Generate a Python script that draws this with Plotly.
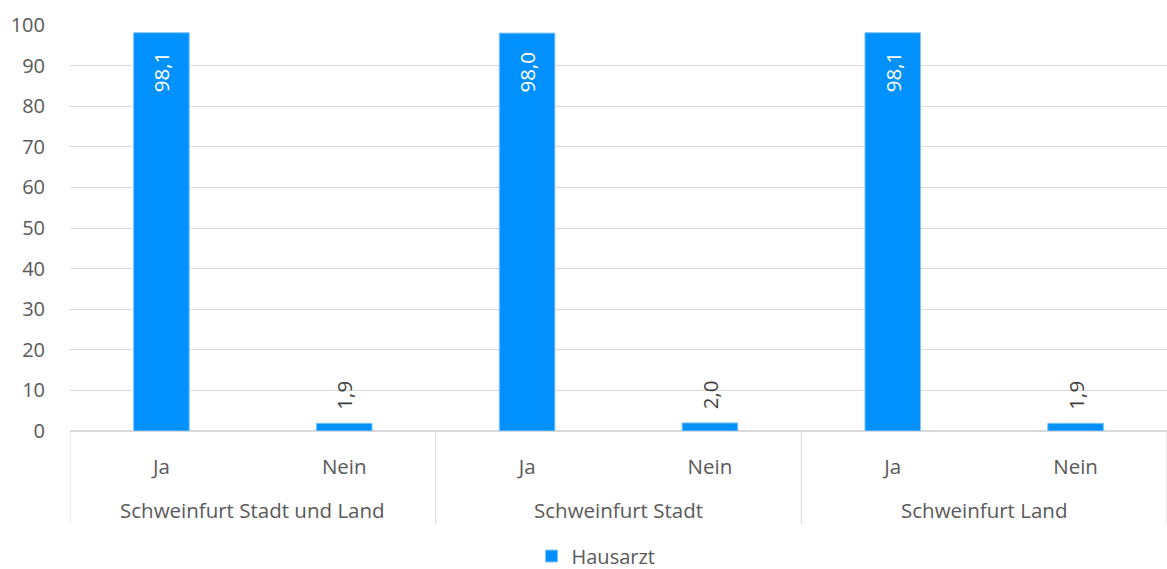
import plotly.graph_objects as go

group_names = ["Schweinfurt Stadt und Land", "Schweinfurt Stadt", "Schweinfurt Land"]
answers = ["Ja", "Nein", "Ja", "Nein", "Ja", "Nein"]
values = [98.1, 1.9, 98.0, 2.0, 98.1, 1.9]
labels = ["98,1", "1,9", "98,0", "2,0", "98,1", "1,9"]
series_name = "Hausarzt"
y_ticks = [0, 10, 20, 30, 40, 50, 60, 70, 80, 90, 100]

FONT = "'Open Sans', sans-serif"
GREY = "#595959"
BLUE = "#0091FF"
LINE = "#D9D9D9"
NBSP = "\u00a0"

positions = list(range(len(values)))
per_group = len(values) // len(group_names)
group_centers = [g * per_group + (per_group - 1) / 2 for g in range(len(group_names))]
divider_x = [g * per_group - 0.5 for g in range(len(group_names) + 1)]

is_big = [v > 50 for v in values]
text_pos = ["inside" if b else "outside" for b in is_big]
text_colors = ["white" if b else "#404040" for b in is_big]
templates = ["%{text}" + NBSP * 3 if b else NBSP * 2 + "%{text}" for b in is_big]

fig = go.Figure()
fig.add_trace(go.Bar(
    x=positions,
    y=values,
    name=series_name,
    marker=dict(color=BLUE, line=dict(color="#7FC4FF", width=1)),
    text=labels,
    texttemplate=templates,
    textposition=text_pos,
    insidetextanchor="end",
    textangle=-90,
    textfont=dict(family=FONT, size=20.5, color=text_colors),
    cliponaxis=False,
    showlegend=True,
))

annotations = [
    dict(x=c, y=0, xref="x", yref="paper", text=name, showarrow=False,
         xanchor="center", yanchor="middle", yshift=-79,
         font=dict(family=FONT, size=20.5, color=GREY))
    for c, name in zip(group_centers, group_names)
]
shapes = [
    dict(type="line", xref="x", yref="paper", x0=d, x1=d, y0=0, y1=-93 / 406,
         line=dict(color=LINE, width=1))
    for d in divider_x
]

fig.update_layout(
    width=1167, height=569,
    margin=dict(l=70, r=0, t=25, b=138),
    paper_bgcolor="white", plot_bgcolor="white",
    bargap=0.696,
    font=dict(family=FONT, size=20, color=GREY),
    showlegend=True,
    legend=dict(orientation="h", xref="container", x=596 / 1167, xanchor="center",
                yref="container", y=(569 - 556) / 569, yanchor="middle",
                bgcolor="rgba(0,0,0,0)",
                font=dict(family=FONT, size=20, color=GREY)),
    annotations=annotations,
    shapes=shapes,
    xaxis=dict(
        range=[-0.5, len(values) - 0.5],
        tickvals=positions, ticktext=answers,
        showline=True, linecolor=LINE, linewidth=1,
        showgrid=False, zeroline=False, ticks="",
        tickfont=dict(family=FONT, size=20.5, color=GREY),
        ticklabelstandoff=17,
        automargin=False,
    ),
    yaxis=dict(
        range=[0, 100],
        tickvals=y_ticks,
        showgrid=True, gridcolor=LINE, gridwidth=1,
        zeroline=True, zerolinecolor=LINE,
        tickfont=dict(family=FONT, size=20, color=GREY),
        ticklabelstandoff=24,
        automargin=False,
    ),
)

post = (
    "var s=document.documentElement.style;s.margin='0';s.padding='0';s.overflow='hidden';"
    "s.width='1167px';s.height='569px';"
    "var b=document.body.style;b.margin='0';b.padding='0';b.overflow='hidden';"
    "b.width='1167px';b.height='569px';"
)
fig.write_html("out.html", config={"displayModeBar": False}, post_script=post)
